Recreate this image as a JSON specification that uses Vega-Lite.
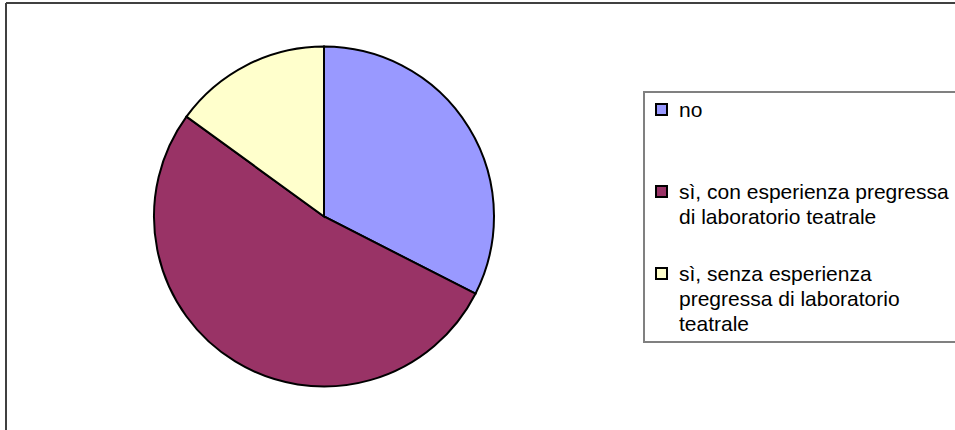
{
  "$schema": "https://vega.github.io/schema/vega-lite/v6.json",
  "padding": {"left": 5, "top": 2, "right": 0, "bottom": 0},
  "background": "white",
  "bounds": "flush",
  "data": {
    "values": [
      {"risposta": "no", "count": 13},
      {"risposta": "sì, con esperienza pregressa di laboratorio teatrale", "count": 21},
      {"risposta": "sì, senza esperienza pregressa di laboratorio teatrale", "count": 6}
    ]
  },
  "spacing": 0,
  "hconcat": [
    {
      "width": 636,
      "height": 427,
      "view": {"stroke": "#404040", "strokeWidth": 2, "strokeDash": [636, 1063, 427, 0]},
      "mark": {"type": "arc", "outerRadius": 170, "stroke": "black", "strokeWidth": 2},
      "encoding": {
        "theta": {"field": "count", "type": "quantitative", "stack": true},
        "color": {
          "field": "risposta",
          "type": "nominal",
          "scale": {
            "domain": ["no", "sì, con esperienza pregressa di laboratorio teatrale", "sì, senza esperienza pregressa di laboratorio teatrale"],
            "range": ["#9999FF", "#993366", "#FFFFCC"]
          },
          "legend": {
            "title": null,
            "orient": "none",
            "legendX": 638,
            "legendY": 89,
            "padding": 7,
            "strokeColor": "#808080",
            "symbolType": "square",
            "symbolSize": 121,
            "symbolStrokeWidth": 2,
            "symbolStrokeColor": "black",
            "symbolOpacity": 1,
            "labelFont": "Liberation Sans",
            "labelFontSize": 21,
            "labelColor": "black",
            "labelLimit": 0,
            "labelOffset": 7,
            "labelBaseline": "alphabetic",
            "gridAlign": "all",
            "rowPadding": 10,
            "labelExpr": "datum.value == 'no' ? '\u00a0no' : datum.value == 'sì, con esperienza pregressa di laboratorio teatrale' ? ['\u00a0sì, con esperienza pregressa', 'di laboratorio teatrale'] : ['\u00a0sì, senza esperienza', 'pregressa di laboratorio', 'teatrale']",
            "encode": {
              "labels": {"update": {"dy": {"value": 7}, "lineHeight": {"value": 25}}}
            }
          }
        }
      }
    },
    {
      "width": 314,
      "height": 427,
      "view": {"stroke": "#404040", "strokeWidth": 2, "strokeDash": [314, 3000]},
      "data": {"values": []},
      "mark": "point"
    }
  ],
  "config": {
    "legend": {"strokeWidth": 2}
  }
}
